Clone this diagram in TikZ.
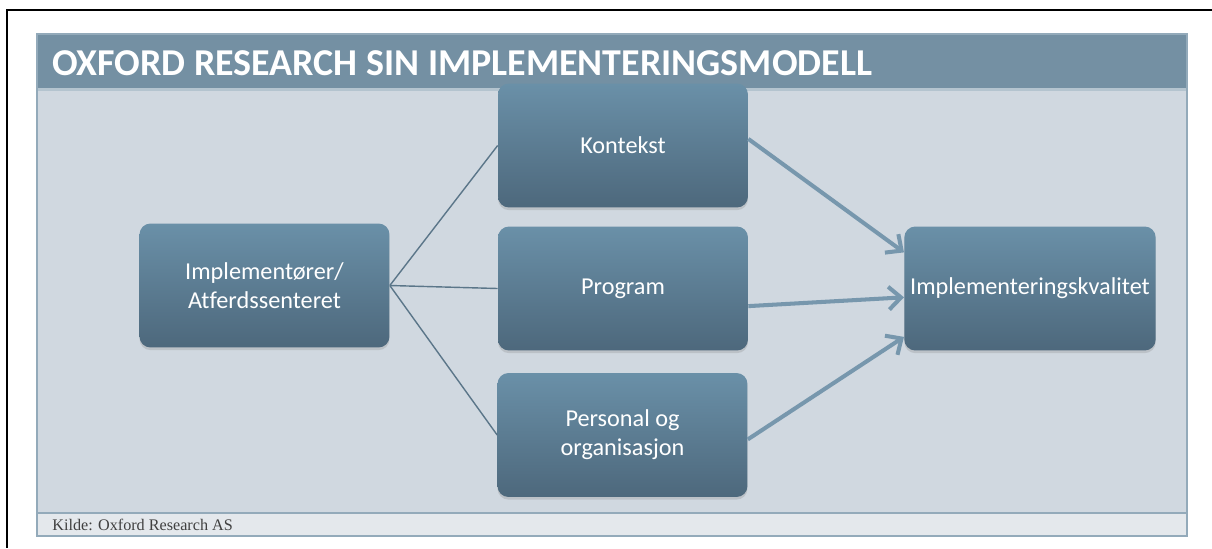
\documentclass[tikz,border=0pt]{standalone}
\usepackage{fontspec}
\setmainfont{Carlito}[Ligatures=NoCommon]
\newfontfamily\sourcefont{Liberation Serif}
\usetikzlibrary{arrows.meta,shadows}
\definecolor{barBlue}{HTML}{7490A3}
\definecolor{rimBlue}{HTML}{93AABA}
\definecolor{panelGrey}{HTML}{D0D8E0}
\definecolor{footGrey}{HTML}{E4E8EC}
\definecolor{boxTop}{HTML}{6A90A8}
\definecolor{boxBottom}{HTML}{4D687C}
\definecolor{lineBlue}{HTML}{5B7689}
\definecolor{arrowBlue}{HTML}{7797AD}

\tikzset{
  stagebox/.style={rounded corners=0.22cm, minimum width=5.0cm, minimum height=2.48cm,
    top color=boxTop, bottom color=boxBottom, text=white, align=center,
    font=\fontsize{13.8}{16.5}\selectfont,
    drop shadow={shadow xshift=0pt, shadow yshift=-1.5pt, opacity=0.25}},
  link/.style={draw=lineBlue, line width=0.8pt},
  flow/.style={draw=arrowBlue, line width=2.3pt,
    -{Straight Barb[length=7pt, width=13pt, line width=2.3pt]}},
}

\begin{document}
\begin{tikzpicture}[x=0.02cm, y=-0.02cm]%
\useasboundingbox (0,0) rectangle (1212,548);%
% page edge
\draw[black, line width=0.8pt] (1212,10) -- (7,10) -- (7,548);%
% panel: title bar, body and source line
\fill[barBlue] (37,34) rectangle (1187,88);%
\fill[panelGrey] (37,88) rectangle (1187,513);%
\fill[footGrey] (37,513) rectangle (1187,536);%
\draw[rimBlue!70, line width=1.2pt] (37,89.5) -- (1187,89.5);%
\draw[rimBlue, line width=1.2pt] (37,513) -- (1187,513);%
\draw[rimBlue, line width=1.2pt] (37,34) rectangle (1187,536);%
\node[anchor=base west, inner sep=0pt, text=white, font=\bfseries\fontsize{21.6}{26}\selectfont] (title) at (52,75) {OXFORD RESEARCH SIN IMPLEMENTERINGSMODELL};%
\node[anchor=base west, inner sep=0pt, text=black!75, font=\sourcefont\fontsize{9.2}{11}\selectfont] (source) at (52,530) {Kilde: Oxford Research AS};%
% boxes
\node[stagebox] (actors) at (264.5,285.5) {Implementører/\\Atferdssenteret};%
\node[stagebox] (context) at (623,145.5) {Kontekst};%
\node[stagebox] (program) at (623,288.5) {Program};%
\node[stagebox] (staff) at (622.5,435) {Personal og\\organisasjon};%
\node[stagebox] (quality) at (1030,288.5) {Implementeringskvalitet};%
% thin links from the actors
\draw[link] (actors.east) -- (context.west);%
\draw[link] (actors.east) -- (program.west);%
\draw[link] (actors.east) -- (staff.west);%
% arrows into quality
\draw[flow] (context.3) -- (quality.164);%
\draw[flow] (program.352) -- (quality.184);%
\draw[flow] (staff.358) -- (quality.201);%
\end{tikzpicture}
\end{document}
